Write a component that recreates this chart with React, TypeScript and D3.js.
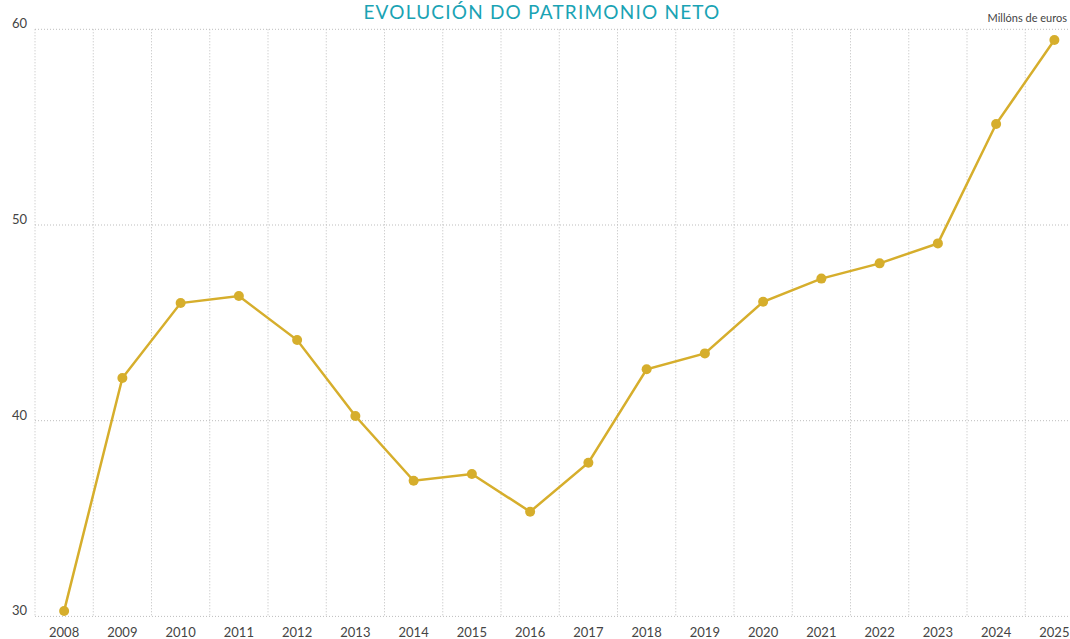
import { useEffect, useRef } from "react";
import * as d3 from "d3";

const years = [
  "2008", "2009", "2010", "2011", "2012", "2013", "2014", "2015", "2016",
  "2017", "2018", "2019", "2020", "2021", "2022", "2023", "2024", "2025",
];
const patrimonio = [
  30.28, 42.18, 46.01, 46.37, 44.12, 40.24, 36.93, 37.28, 35.35, 37.85,
  42.63, 43.44, 46.08, 47.26, 48.04, 49.06, 55.16, 59.45,
];
const yTicks = [30, 40, 50, 60];

const title = "EVOLUCIÓN DO PATRIMONIO NETO";
const unitLabel = "Millóns de euros";

const width = 1070;
const height = 639;
const margin = { top: 29.3, right: -13.5, bottom: 22.6, left: 35 };

export default function App() {
  const ref = useRef(null);

  useEffect(() => {
    draw();
  });

  function draw() {
    const svg = d3.select(ref.current);
    svg.selectAll("*").remove();

    const innerW = width - margin.left - margin.right;
    const innerH = height - margin.top - margin.bottom;
    const font = "Lato, 'Open Sans', sans-serif";

    const x = d3.scaleBand().domain(years).range([margin.left, margin.left + innerW]).padding(0);
    const y = d3.scaleLinear().domain([30, 60]).range([margin.top + innerH, margin.top]);

    // title
    svg
      .append("text")
      .attr("x", 542)
      .attr("y", 19)
      .attr("text-anchor", "middle")
      .attr("fill", "#1aa3b4")
      .attr("font-family", font)
      .attr("font-size", 19)
      .attr("letter-spacing", 1.2)
      .text(title);

    svg
      .append("text")
      .attr("x", 1067)
      .attr("y", 22)
      .attr("text-anchor", "end")
      .attr("fill", "#444")
      .attr("font-family", font)
      .attr("font-size", 11)
      .text(unitLabel);

    const grid = svg.append("g").attr("stroke", "#bdbdbd").attr("stroke-width", 1).attr("stroke-dasharray", "1,2");

    // horizontal grid
    grid
      .selectAll("line.h")
      .data(yTicks)
      .enter()
      .append("line")
      .attr("x1", margin.left)
      .attr("x2", width)
      .attr("y1", (d) => y(d))
      .attr("y2", (d) => y(d));

    // vertical grid at band edges
    grid
      .selectAll("line.v")
      .data(years)
      .enter()
      .append("line")
      .attr("x1", (d) => x(d)!)
      .attr("x2", (d) => x(d)!)
      .attr("y1", y(60))
      .attr("y2", y(30));

    // y labels
    svg
      .append("g")
      .selectAll("text")
      .data(yTicks)
      .enter()
      .append("text")
      .attr("x", 27)
      .attr("y", (d) => y(d) - 1)
      .attr("text-anchor", "end")
      .attr("fill", "#444")
      .attr("font-family", font)
      .attr("font-size", 13)
      .text((d) => d);

    // x labels
    svg
      .append("g")
      .selectAll("text")
      .data(years)
      .enter()
      .append("text")
      .attr("x", (d) => x(d)! + x.bandwidth() / 2)
      .attr("y", 637)
      .attr("text-anchor", "middle")
      .attr("fill", "#444")
      .attr("font-family", font)
      .attr("font-size", 13)
      .text((d) => d);

    const pts: [string, number][] = years.map((yr, i) => [yr, patrimonio[i]]);
    const line = d3
      .line<[string, number]>()
      .x((d) => x(d[0])! + x.bandwidth() / 2)
      .y((d) => y(d[1]));

    svg
      .append("path")
      .datum(pts)
      .attr("d", line)
      .attr("fill", "none")
      .attr("stroke", "#d6ae2c")
      .attr("stroke-width", 2.5);

    svg
      .append("g")
      .selectAll("circle")
      .data(pts)
      .enter()
      .append("circle")
      .attr("cx", (d) => x(d[0])! + x.bandwidth() / 2)
      .attr("cy", (d) => y(d[1]))
      .attr("r", 5)
      .attr("fill", "#d6ae2c");
  }

  return (
    <svg
      ref={ref}
      width={width}
      height={height}
      style={{ position: "absolute", left: 0, top: 0, background: "#fff" }}
    ></svg>
  );
}
